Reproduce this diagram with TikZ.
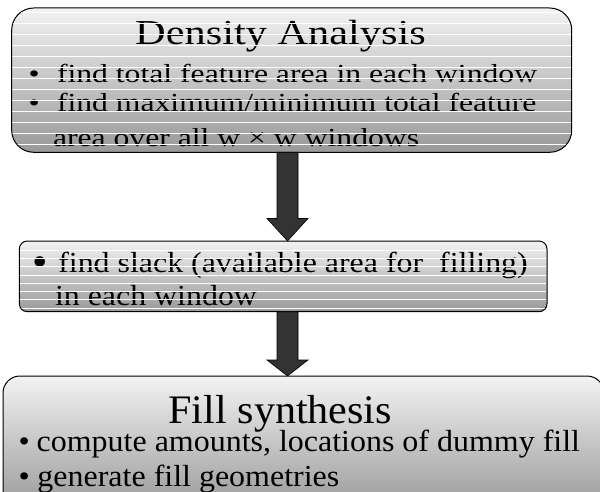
\documentclass[tikz,border=0pt]{standalone}
\usepackage{fontspec}
\setmainfont{Liberation Serif}
\usepackage{graphicx}
\usetikzlibrary{calc}
\definecolor{boxtop}{gray}{0.95}
\definecolor{boxbot}{gray}{0.6}
\definecolor{arrowfill}{gray}{0.2}
\newcommand\stxt[3]{\scalebox{#2}[1]{\fontsize{#1}{#1}\selectfont #3}}
\begin{document}
\begin{tikzpicture}[x=1pt,y=-1pt,
  box/.style={draw=black, line width=1pt, top color=boxtop, bottom color=boxbot, inner sep=0pt, outer sep=0pt},
  txt/.style={inner sep=0pt, outer sep=0pt, anchor=base west, text=black},
  ttl/.style={inner sep=0pt, outer sep=0pt, anchor=base, text=black},
  stripe/.style={white, line width=0.9pt},
  bigarrow/.style={fill=arrowfill, draw=black, line width=0.6pt, line join=miter}]
\useasboundingbox (0,0) rectangle (600,492);
\fill[white] (0,0) rectangle (600,492);

% boxes
\node[box, rounded corners=22pt, minimum width=560pt, minimum height=144.3pt] (b1) at (291.7,80.15) {};
\node[box, rounded corners=8pt, minimum width=527.7pt, minimum height=70.7pt] (b2) at (283.15,276.35) {};
\node[box, rounded corners=17pt, minimum width=601pt, minimum height=134pt] (b3) at (303.5,443) {};

% arrows
\coordinate (ax) at (287.5,0);
\draw[bigarrow] ($(b1.south -| ax)+(-10.5,0)$) -- ($(b1.south -| ax)+(10.5,0)$)
  -- ($(b2.north -| ax)+(10.5,-22.5)$) -- ($(b2.north -| ax)+(20.5,-22.5)$)
  -- (b2.north -| ax)
  -- ($(b2.north -| ax)+(-20.5,-22.5)$) -- ($(b2.north -| ax)+(-10.5,-22.5)$) -- cycle;
\draw[bigarrow] ($(b2.south -| ax)+(-10.5,0)$) -- ($(b2.south -| ax)+(10.5,0)$)
  -- ($(b3.north -| ax)+(10.5,-16)$) -- ($(b3.north -| ax)+(20.5,-16)$)
  -- (b3.north -| ax)
  -- ($(b3.north -| ax)+(-20.5,-16)$) -- ($(b3.north -| ax)+(-10.5,-16)$) -- cycle;

% box 1 text
\node[ttl] (t1) at (280.5,45) {\stxt{35pt}{1.21}{Density Analysis}};
\node[txt] (u1a) at (28.5,83) {\stxt{26pt}{1.218}{•}};
\node[txt] (l1a) at (57,83) {\stxt{26pt}{1.218}{find total feature area in each window}};
\node[txt] (u1b) at (28.5,112) {\stxt{26pt}{1.218}{•}};
\node[txt] (l1b) at (57,112) {\stxt{26pt}{1.218}{find maximum/minimum total feature}};
\node[txt] (l1c) at (53,147) {\stxt{26pt}{1.218}{area over all w × w windows}};

% box 2 text
\node[txt] (u2a) at (32,276) {\stxt{44pt}{1.0}{•}};
\node[txt] (l2a) at (58.3,272.3) {\stxt{29pt}{1.1}{find slack (available area for\ \ filling)}};
\node[txt] (l2b) at (55,305) {\stxt{29pt}{1.1}{in each window}};

% box 3 text
\node[ttl] (t3) at (280.3,423) {\stxt{40.5pt}{1.04}{Fill synthesis}};
\node[txt] (u3a) at (18.5,451.7) {\stxt{30.5pt}{1.048}{•}};
\node[txt] (l3a) at (36.7,451.7) {\stxt{30.5pt}{1.048}{compute amounts, locations of dummy fill}};
\node[txt] (u3b) at (18.5,486) {\stxt{30.5pt}{1.048}{•}};
\node[txt] (l3b) at (37.5,486) {\stxt{30.5pt}{1.048}{generate fill geometries}};

% stripes
\begin{scope}
\clip[rounded corners=21.5pt] ($(b1.north west)+(0.6,0.6)$) rectangle ($(b1.south east)+(-0.6,-0.6)$);
\foreach \k in {0,...,12}
  \draw[stripe] ($(b1.north west)+(0,4.3+11*\k)$) -- ($(b1.north east)+(0,4.3+11*\k)$);
\end{scope}
\begin{scope}
\clip[rounded corners=7.5pt] ($(b2.north west)+(0.6,0.6)$) rectangle ($(b2.south east)+(-0.6,-0.6)$);
\foreach \k in {1,...,8}
  \draw[stripe] ($(b2.north west)+(0,0.63+8.33*\k)$) -- ($(b2.north east)+(0,0.63+8.33*\k)$);
\end{scope}
\end{tikzpicture}
\end{document}
